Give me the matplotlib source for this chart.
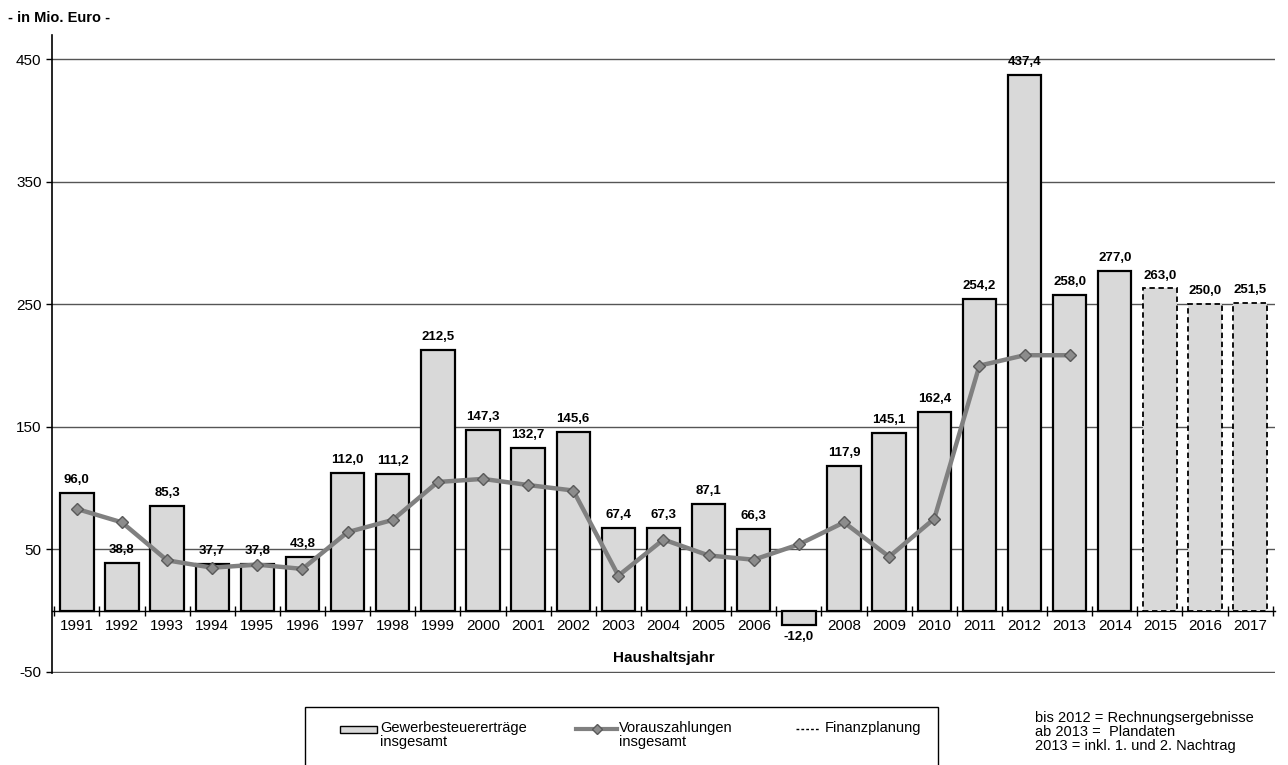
import matplotlib.pyplot as plt
import matplotlib.patches as patches
from matplotlib.lines import Line2D
import numpy as np

plt.rcParams["font.family"] = ["Liberation Sans", "DejaVu Sans"]

# Data
years = list(range(1991, 2018))
ertraege = [96.0, 38.8, 85.3, 37.7, 37.8, 43.8, 112.0, 111.2, 212.5, 147.3,
            132.7, 145.6, 67.4, 67.3, 87.1, 66.3, -12.0, 117.9, 145.1, 162.4,
            254.2, 437.4, 258.0, 277.0, 263.0, 250.0, 251.5]
voraus_years = list(range(1991, 2014))
vorauszahlungen = [83, 72, 41, 35, 37.5, 34, 64, 74, 105, 107.5,
                   102.5, 98, 28.5, 58, 45, 41.5, 54, 72, 44, 75,
                   200, 208.5, 208.5]
planung_from = 2015
tick_labels = [str(y) if y != 2007 else "" for y in years]
y_ticks = [-50, 50, 150, 250, 350, 450]

fig = plt.figure(figsize=(12.88, 7.65), dpi=100)
ax = fig.add_axes([52 / 1288, (765 - 673) / 765, (1275 - 52) / 1288, (673 - 35) / 765])

x = np.arange(len(years))
bar_fill = "#d9d9d9"

# Bars
for i, (yr, val) in enumerate(zip(years, ertraege)):
    dashed = yr >= planung_from
    ax.bar(i, val, width=0.74, color=bar_fill, edgecolor="black",
           linewidth=1.3 if dashed else 1.6,
           linestyle=(0, (3, 2)) if dashed else "-", zorder=3)
    label = f"{val:.1f}".replace(".", ",")
    if val >= 0:
        ax.annotate(label, (i, val), xytext=(0, 5), textcoords="offset points",
                    ha="center", va="bottom", fontsize=9.5, fontweight="bold", zorder=5)
    else:
        ax.annotate(label, (i, val), xytext=(0, -4), textcoords="offset points",
                    ha="center", va="top", fontsize=9.5, fontweight="bold", zorder=5)

# Vorauszahlungen line
xv = [years.index(y) for y in voraus_years]
ax.plot(xv, vorauszahlungen, color="#808080", linewidth=3.2, marker="D",
        markersize=6, markerfacecolor="#8c8c8c", markeredgecolor="#5a5a5a",
        zorder=4)

# Axes
ax.set_xlim(-0.55, len(years) - 0.45)
ax.set_ylim(-51, 470)
ax.set_yticks(y_ticks)
ax.set_yticklabels([str(v) for v in y_ticks], fontsize=11)
ax.yaxis.grid(True, color="#555555", linewidth=1.0, zorder=0)
ax.set_axisbelow(True)

ax.spines["top"].set_visible(False)
ax.spines["right"].set_visible(False)
ax.spines["bottom"].set_position(("data", 0))
ax.spines["bottom"].set_linewidth(1.0)
ax.spines["left"].set_linewidth(1.2)

ax.set_xticks(x)
ax.set_xticklabels(tick_labels, fontsize=11)
ax.tick_params(axis="x", length=0, pad=6)
ax.set_xticks(np.arange(-0.5, len(years), 1.0), minor=True)
ax.tick_params(axis="x", which="minor", length=7, direction="inout", width=1)
ax.tick_params(axis="y", length=4, width=1)

ax.text(0.5, 0.024, "Haushaltsjahr", transform=ax.transAxes, ha="center",
        va="center", fontsize=11, fontweight="bold")

fig.text(8 / 1288, 1 - 18 / 765, "- in Mio. Euro -", fontsize=10.5,
         fontweight="bold", ha="left", va="center")

# Legend box
fig.patches.append(patches.Rectangle((305 / 1288, -0.05), 633 / 1288, (765 - 707) / 765 + 0.05,
                                     transform=fig.transFigure, facecolor="white",
                                     edgecolor="black", linewidth=1.0))
fig.patches.append(patches.Rectangle((340 / 1288, 1 - 733 / 765), 37 / 1288, 7 / 765,
                                     transform=fig.transFigure, facecolor=bar_fill,
                                     edgecolor="black", linewidth=1.0))
fig.text(380 / 1288, 1 - 721 / 765, "Gewerbesteuererträge\ninsgesamt", fontsize=10.5,
         ha="left", va="top", linespacing=1.0)
fig.lines.append(Line2D([576 / 1288, 597 / 1288, 617 / 1288], [1 - 729 / 765] * 3,
                        transform=fig.transFigure, color="#808080", linewidth=3,
                        marker="D", markevery=[1], markersize=5,
                        markerfacecolor="#8c8c8c", markeredgecolor="#5a5a5a"))
fig.text(619 / 1288, 1 - 721 / 765, "Vorauszahlungen\ninsgesamt", fontsize=10.5,
         ha="left", va="top", linespacing=1.0)
fig.lines.append(Line2D([796 / 1288, 820 / 1288], [1 - 729 / 765] * 2,
                        transform=fig.transFigure, color="black", linewidth=1.0,
                        linestyle=(0, (2, 1.5))))
fig.text(825 / 1288, 1 - 721 / 765, "Finanzplanung", fontsize=10.5,
         ha="left", va="top")

fig.text(1035 / 1288, 1 - 711 / 765,
         "bis 2012 = Rechnungsergebnisse\nab 2013 =  Plandaten\n2013 = inkl. 1. und 2. Nachtrag",
         fontsize=10.5, ha="left", va="top", linespacing=0.98)

fig.savefig("out.png", dpi=100)
